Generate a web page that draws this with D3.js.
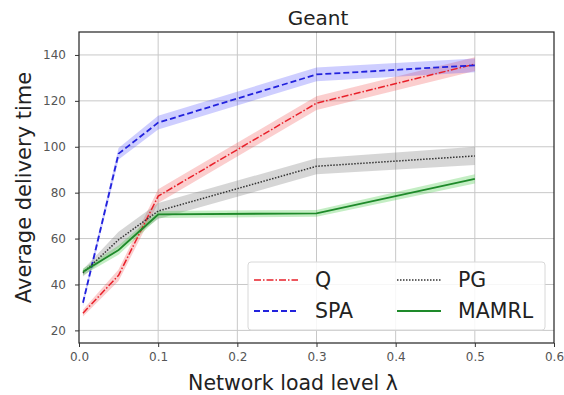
<!DOCTYPE html>
<html>
<head>
<meta charset="utf-8">
<script src="https://cdn.jsdelivr.net/npm/d3@7"></script>
<style>
  body { margin: 0; background: #fff; }
  text { font-family: "DejaVu Sans", sans-serif; }
</style>
</head>
<body>
<div id="chart"></div>
<script>
// load levels
var loads = [0.005, 0.05, 0.1, 0.3, 0.5];

// mean delivery time per method
var qVals     = [27.5, 44, 78.5, 119, 136];
var spaVals   = [32, 97, 110.5, 131.5, 135.5];
var pgVals    = [45, 59.5, 72, 91.5, 96];
var mamrlVals = [45.5, 55, 70.5, 71, 86];

// half width of the shaded band
var qErr     = [1.5, 2.5, 3, 3, 3];
var spaErr   = [1.5, 2.5, 3, 3, 3];
var pgErr    = [1.5, 3.5, 3.5, 3.5, 4];
var mamrlErr = [1.5, 2, 1.5, 1.5, 2];

var xTicks = [0, 0.1, 0.2, 0.3, 0.4, 0.5, 0.6];
var yTicks = [20, 40, 60, 80, 100, 120, 140];

var width = 564, height = 395;
var margin = {top: 32, right: 10, bottom: 52, left: 79};

var svg = d3.select('#chart').append('svg')
  .attr('width', width)
  .attr('height', height);

var x = d3.scaleLinear().domain([0, 0.6]).range([margin.left, 554]);
var y = d3.scaleLinear().domain([14.5, 150]).range([343, margin.top]);

// grid
svg.append('g').selectAll('line').data(xTicks.slice(1, -1)).enter().append('line')
  .attr('x1', d => x(d)).attr('x2', d => x(d))
  .attr('y1', y(150)).attr('y2', y(14.5))
  .style('stroke', '#c8c8c8').style('stroke-width', 1);
svg.append('g').selectAll('line').data(yTicks).enter().append('line')
  .attr('x1', x(0)).attr('x2', x(0.6))
  .attr('y1', d => y(d)).attr('y2', d => y(d))
  .style('stroke', '#c8c8c8').style('stroke-width', 1);

var series = [
  {name: 'Q', vals: qVals, err: qErr, color: '#e8202a', band: 'rgba(240,60,60,0.25)', dash: '7,2,1.5,2', w: 1.5},
  {name: 'SPA', vals: spaVals, err: spaErr, color: '#2222dd', band: 'rgba(60,60,255,0.25)', dash: '6,3', w: 1.8},
  {name: 'PG', vals: pgVals, err: pgErr, color: '#333333', band: 'rgba(120,120,120,0.3)', dash: '1.5,1.5', w: 1.5},
  {name: 'MAMRL', vals: mamrlVals, err: mamrlErr, color: '#1e8a2a', band: 'rgba(60,200,60,0.3)', dash: null, w: 1.8}
];

var area = d3.area()
  .x(d => x(d.x))
  .y0(d => y(d.v - d.e))
  .y1(d => y(d.v + d.e));
var line = d3.line()
  .x(d => x(d.x))
  .y(d => y(d.v));

series.forEach(function(s) {
  var pts = loads.map(function(l, i) { return {x: l, v: s.vals[i], e: s.err[i]}; });
  svg.append('path').datum(pts)
    .attr('d', area)
    .style('fill', s.band);
  s.pts = pts;
});
series.forEach(function(s) {
  svg.append('path').datum(s.pts)
    .attr('d', line)
    .style('fill', 'none')
    .style('stroke', s.color)
    .style('stroke-width', s.w)
    .style('stroke-dasharray', s.dash);
});

// frame
svg.append('rect')
  .attr('x', x(0)).attr('y', y(150))
  .attr('width', x(0.6) - x(0)).attr('height', y(14.5) - y(150))
  .style('fill', 'none').style('stroke', '#222').style('stroke-width', 1.2);

// axes
var xAxis = d3.axisBottom(x).tickValues(xTicks).tickFormat(d3.format('.1f')).tickSize(4).tickPadding(5);
var yAxis = d3.axisLeft(y).tickValues(yTicks).tickSize(4).tickPadding(9);
var gx = svg.append('g').attr('transform', 'translate(0,' + y(14.5) + ')').call(xAxis);
var gy = svg.append('g').attr('transform', 'translate(' + x(0) + ',0)').call(yAxis);
[gx, gy].forEach(function(g) {
  g.select('.domain').remove();
  g.selectAll('line').style('stroke', '#333');
  g.selectAll('text').style('font-size', '12px').style('fill', '#555');
});

// title and labels
svg.append('text').attr('x', 318).attr('y', 25)
  .attr('text-anchor', 'middle').style('font-size', '20px').style('fill', '#222')
  .text('Geant');
svg.append('text').attr('x', 293).attr('y', 390)
  .attr('text-anchor', 'middle').style('font-size', '20.5px').style('fill', '#222')
  .text('Network load level \u03bb');
svg.append('text')
  .attr('transform', 'translate(31,' + ((y(14.5) + y(150)) / 2) + ') rotate(-90)')
  .attr('text-anchor', 'middle').style('font-size', '21px').style('fill', '#222')
  .text('Average delivery time');

// legend
var lg = svg.append('g');
lg.append('rect')
  .attr('x', 248).attr('y', 262).attr('width', 297).attr('height', 68)
  .attr('rx', 3)
  .style('fill', 'rgba(255,255,255,0.85)').style('stroke', '#d8d8d8');
var legendPos = [[254, 280], [254, 311], [397, 280], [397, 311]];
var legendOrder = [0, 1, 2, 3];
legendOrder.forEach(function(k, i) {
  var s = series[k], p = legendPos[i];
  lg.append('line')
    .attr('x1', p[0]).attr('x2', p[0] + 44)
    .attr('y1', p[1]).attr('y2', p[1])
    .style('stroke', s.color).style('stroke-width', s.w)
    .style('stroke-dasharray', s.dash);
  lg.append('text')
    .attr('x', p[0] + 61).attr('y', p[1] + 7)
    .style('font-size', '20.5px').style('fill', '#222')
    .text(s.name);
});
</script>
</body>
</html>
